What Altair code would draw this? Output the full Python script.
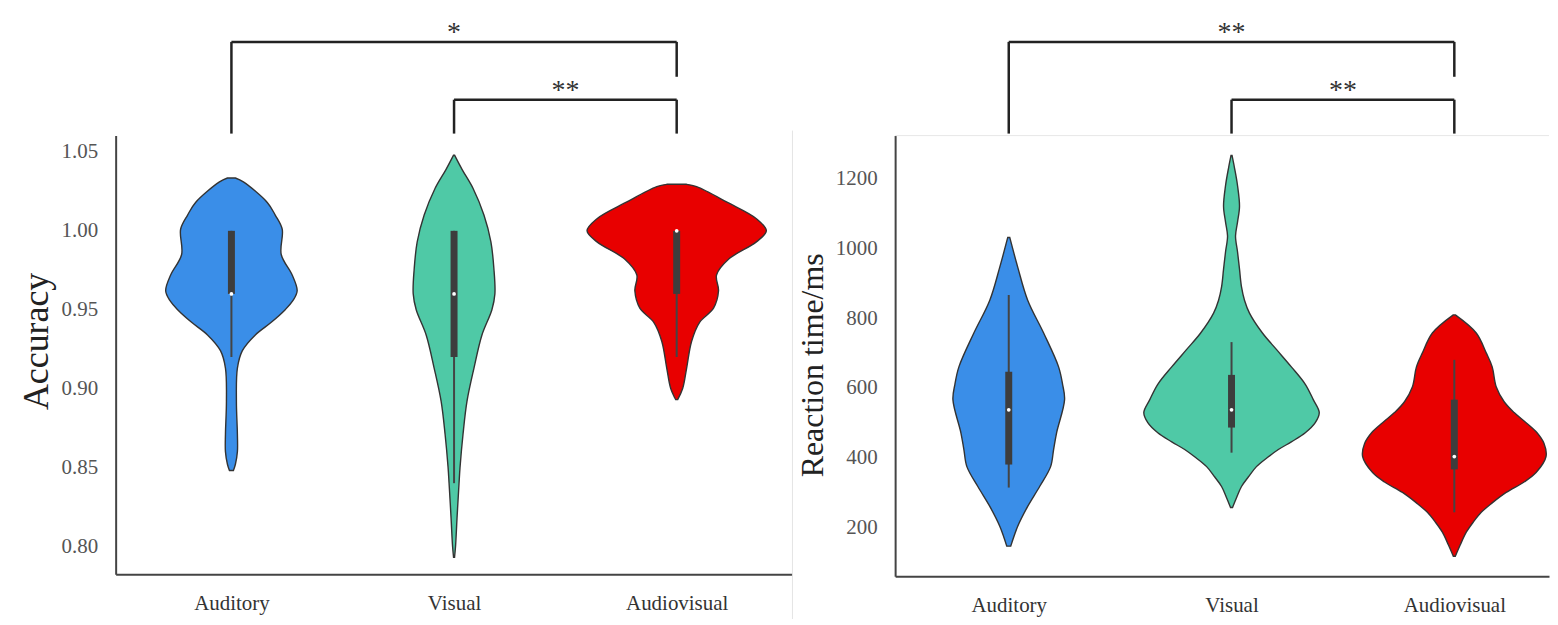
import altair as alt
import pandas as pd

SERIF = "Liberation Serif"
groups = ["Auditory", "Visual", "Audiovisual"]
colors = ["#3a8ee8", "#4fc9a6", "#e80000"]

# ---------- Accuracy: violin outlines (value, half-width, px) ----------
acc_aud_v = [1.0335, 1.031, 1.018, 1.010, 1.001, 0.985, 0.972, 0.962, 0.956, 0.950, 0.942, 0.934, 0.924, 0.913, 0.892, 0.871, 0.860, 0.852, 0.848]
acc_aud_w = [4, 12, 36, 44, 51, 50, 61, 66, 62, 54, 40, 24, 11, 6, 5, 6, 6, 4, 2]
acc_vis_v = [1.048, 1.039, 1.027, 1.010, 0.993, 0.976, 0.960, 0.950, 0.934, 0.913, 0.892, 0.871, 0.850, 0.840, 0.818, 0.800, 0.793]
acc_vis_w = [0.5, 8, 19, 30, 37, 40, 41, 38, 28, 20, 13, 9, 6, 5, 3, 1.5, 0.5]
acc_av_v = [1.0295, 1.028, 1.018, 1.0077, 1.000, 0.993, 0.982, 0.972, 0.962, 0.951, 0.942, 0.930, 0.913, 0.900, 0.893]
acc_av_w = [10, 20, 51, 80, 90, 80, 52, 40, 42, 37, 23, 15, 10, 6, 1]

# box summaries: whisker low, q1, median, q3, whisker high
acc_wlo = [0.92, 0.84, 0.92]
acc_q1 = [0.96, 0.92, 0.96]
acc_med = [0.96, 0.96, 1.00]
acc_q3 = [1.00, 1.00, 1.00]
acc_whi = [1.00, 1.00, 1.00]

# ---------- Reaction time ----------
rt_aud_v = [1031, 946, 851, 757, 660, 610, 566, 471, 423, 374, 317, 260, 203, 146]
rt_aud_w = [1, 9, 19, 35, 50, 54, 56, 48, 45, 42, 31, 19, 9, 2]
rt_vis_v = [1266, 1230, 1180, 1120, 1075, 1035, 990, 940, 889, 851, 814, 757, 710, 660, 610, 566, 529, 500, 471, 445, 423, 400, 374, 345, 317, 285, 257]
rt_vis_w = [0.5, 3, 6, 8, 6, 4, 6, 8, 10, 13, 18, 31, 45, 60, 74, 82, 88, 84, 74, 60, 47, 36, 25, 17, 10, 5, 1]
rt_av_v = [809, 757, 700, 660, 603, 560, 529, 500, 471, 440, 403, 357, 330, 300, 270, 243, 215, 186, 150, 117]
rt_av_w = [1, 22, 32, 38, 42, 50, 60, 72, 83, 90, 92, 82, 70, 52, 38, 27, 19, 12, 6, 1]

rt_wlo = [314, 414, 243]
rt_q1 = [380, 486, 366]
rt_med = [537, 537, 403]
rt_q3 = [646, 637, 566]
rt_whi = [866, 731, 680]

# significance brackets: (from, to, label)
acc_sig = [(0, 2, "*"), (1, 2, "**")]
rt_sig = [(0, 2, "**"), (1, 2, "**")]

PX_PER_CAT = 223.5
label_expr = "[" + ",".join("'%s'" % g for g in groups) + "][datum.value]"


def violin_df(vals, widths):
    rows = []
    for i, (vs, ws) in enumerate(zip(vals, widths)):
        for v, w in sorted(zip(vs, ws)):
            rows.append(dict(group=groups[i], idx=i, v=v,
                             lo=i - w / PX_PER_CAT, hi=i + w / PX_PER_CAT))
    return pd.DataFrame(rows)


def box_df(wlo, q1, med, q3, whi):
    return pd.DataFrame(dict(group=groups, idx=[0, 1, 2], wlo=wlo, q1=q1,
                             med=med, q3=q3, whi=whi))


def panel(vdf, bdf, sig, ydomain, yvalues, yfmt, ytitle, ytitle_size, title_y,
          xdomain, w, h, left_edge_line, top_edge_line):
    xs = alt.Scale(domain=xdomain, nice=False, zero=False)
    ys = alt.Scale(domain=ydomain, nice=False, zero=False)
    xaxis = alt.Axis(values=[0, 1, 2], labelExpr=label_expr, ticks=False, grid=False,
                     labelPadding=18, labelFontSize=21, labelFont=SERIF,
                     labelColor="#333", domainColor="#444", domainWidth=2,
                     title=None, labelFlush=False)
    yaxis = alt.Axis(values=yvalues, format=yfmt, ticks=False, grid=False,
                     labelPadding=18, labelFontSize=21, labelFont=SERIF,
                     labelColor="#555", domainColor="#444", domainWidth=2,
                     title=ytitle, titleFont=SERIF, titleFontSize=ytitle_size,
                     titleFontWeight="normal", titleColor="#222", titlePadding=6,
                     titleY=title_y)

    violins = alt.Chart(vdf).mark_area(
        orient="horizontal", interpolate="catmull-rom", stroke="#333",
        strokeWidth=1.4, opacity=1
    ).encode(
        y=alt.Y("v:Q", scale=ys, axis=yaxis),
        x=alt.X("lo:Q", scale=xs, axis=xaxis),
        x2="hi:Q",
        color=alt.Color("group:N", scale=alt.Scale(domain=groups, range=colors), legend=None),
    )
    base = alt.Chart(bdf)
    whisk = base.mark_rule(color="#444", strokeWidth=2).encode(x="idx:Q", y="wlo:Q", y2="whi:Q")
    box = base.mark_rule(color="#3d3d3d", strokeWidth=7).encode(x="idx:Q", y="q1:Q", y2="q3:Q")
    med = base.mark_circle(color="white", size=14, opacity=1).encode(x="idx:Q", y="med:Q")

    layers = [violins, whisk, box, med]

    # brackets (heights in pixels above the plot)
    levels = [(-94, -59), (-36, -2)]  # (bar height, right leg end)
    for k, (a, b, lab) in enumerate(sig):
        bar, rend = levels[k]
        d = pd.DataFrame(dict(a=[a], b=[b], m=[(a + b) / 2], t=[lab]))
        c = alt.Chart(d)
        layers.append(c.mark_rule(color="#222", strokeWidth=2.5).encode(
            x="a:Q", x2="b:Q", y=alt.value(bar)))
        layers.append(c.mark_rule(color="#222", strokeWidth=2.5).encode(
            x="a:Q", y=alt.value(bar), y2=alt.value(-2)))
        layers.append(c.mark_rule(color="#222", strokeWidth=2.5).encode(
            x="b:Q", y=alt.value(bar), y2=alt.value(rend)))
        layers.append(c.mark_text(font=SERIF, fontSize=28, color="#333",
                                  baseline="alphabetic", dy=-1).encode(
            x="m:Q", y=alt.value(bar), text="t:N"))

    edge = pd.DataFrame(dict(k=[0]))
    if left_edge_line:
        layers.append(alt.Chart(edge).mark_rule(color="#e4e4e4", strokeWidth=1).encode(
            x=alt.value(w), y=alt.value(-5), y2=alt.value(h + 45)))
    if top_edge_line:
        layers.append(alt.Chart(edge).mark_rule(color="#e8e8e8", strokeWidth=1).encode(
            x=alt.value(0), x2=alt.value(w), y=alt.value(0)))

    return alt.layer(*layers).properties(width=w, height=h)


left = panel(
    violin_df([acc_aud_v, acc_vis_v, acc_av_v], [acc_aud_w, acc_vis_w, acc_av_w]),
    box_df(acc_wlo, acc_q1, acc_med, acc_q3, acc_whi),
    acc_sig, [0.7823, 1.0604], [0.80, 0.85, 0.90, 0.95, 1.00, 1.05], ".2f",
    "Accuracy", 36, 206, [-0.52, 2.52], 679, 440, True, False)

right = panel(
    violin_df([rt_aud_v, rt_vis_v, rt_av_v], [rt_aud_w, rt_vis_w, rt_av_w]),
    box_df(rt_wlo, rt_q1, rt_med, rt_q3, rt_whi),
    rt_sig, [60, 1323], [200, 400, 600, 800, 1000, 1200], "d",
    "Reaction time/ms", 32, 230, [-0.51, 2.425], 656, 442, False, True)

chart = alt.hconcat(left, right, spacing=3).properties(
    padding={"left": 10, "top": 10, "right": 0, "bottom": 5}
).configure_view(stroke=None)

chart.save("out.html", embed_options={"renderer": "svg", "actions": False})
